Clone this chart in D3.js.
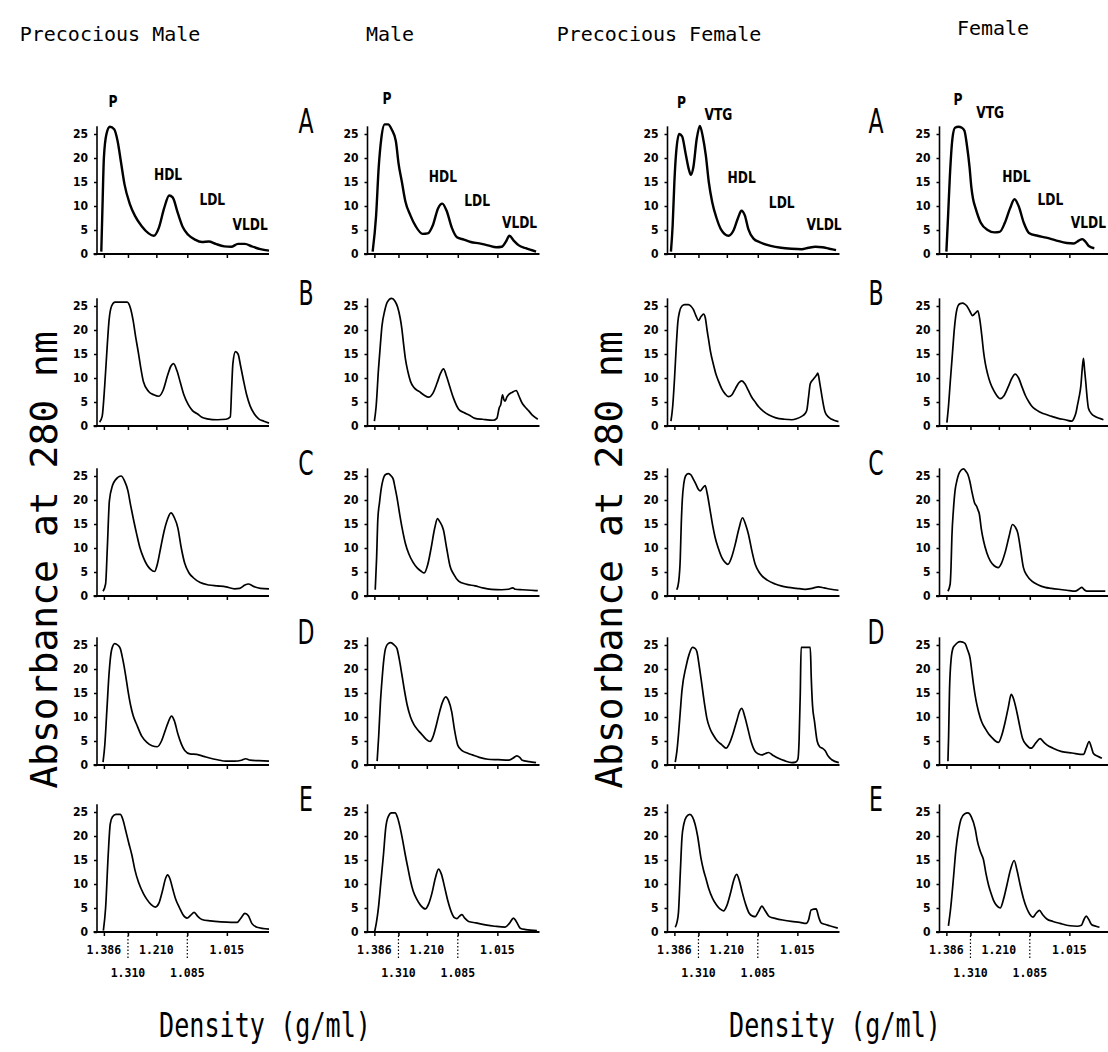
<!DOCTYPE html>
<html><head><meta charset="utf-8">
<script src="https://cdn.jsdelivr.net/npm/d3@7"></script>
<style>body{margin:0;background:#fff}svg{display:block}</style>
</head><body>
<svg id="c" width="1108" height="1052"></svg>
<script>
// ---------- data ----------
const columnTitles = ["Precocious Male", "Male", "Precocious Female", "Female"];
const rowLetters = ["A", "B", "C", "D", "E"];
const yTicks = [0, 5, 10, 15, 20, 25];
// gradient density labels and their fraction position (% of gradient length)
const densityLabels = ["1.386", "1.310", "1.210", "1.085", "1.015"];
const densityPos = [4, 18, 34.5, 52.5, 75.5];
const densityLine = [0, 1, 0, 1, 0];   // 0 = upper label line, 1 = lower (dotted guide)
const yTitle = "Absorbance at 280 nm";
const xTitle = "Density (g/ml)";

// absorbance profiles: [fraction position %, absorbance]
const pmA = [[2.5,0.5],[3.2,10],[4,20],[5.5,25],[7.5,26.5],[10,26],[12,23.5],[14,19],[16,14.5],[19,10.5],[22,8],[26,5.8],[30,4.3],[33,3.8],[36,5.5],[39,9.5],[42,12.2],[44,11.8],[47,8.5],[50,5.5],[53,4],[57,3],[61,2.5],[65,2.6],[69,2.1],[74,1.6],[78,1.5],[82,2.1],[86,2.1],[90,1.6],[95,1],[100,0.7]];
const pmB = [[1.5,0.8],[3,2],[4.5,8.5],[6,17],[7,22],[8.5,25],[10.5,25.8],[14,25.8],[17.5,25.8],[19.5,24.5],[21,22],[22.5,18.5],[24,15.4],[25.5,12],[27,9.2],[30,7.2],[33,6.5],[36,6.2],[38.5,7.5],[41,10.5],[43,12.5],[44.5,13],[46.5,11.5],[48.5,9],[50.5,6.5],[53,4.5],[55.5,3.2],[58.5,2.5],[61,1.8],[64,1.5],[70,1.3],[75,1.4],[77.5,1.9],[78.3,8],[79,13],[80.5,15.5],[82,15],[83.5,12.5],[85,9.8],[87,6.5],[89,4.2],[91.5,2.5],[94,1.5],[97,1],[100,0.6]];
const pmC = [[3.5,1],[5,2.5],[6,10],[7.2,19.8],[9,23],[11,24.3],[14,25],[16,24],[18,21.9],[19.5,19],[21,16.3],[23,13],[25,10],[27,8],[29,6.5],[31,5.6],[33.5,5.1],[35,6.5],[37,10],[39,13.5],[41,16],[43,17.3],[45,16.3],[47,14.2],[49,10],[51,6.8],[53.5,4.8],[56,3.8],[60,2.8],[65,2.3],[70,2.1],[75,1.9],[80,1.5],[83,1.6],[86,2.3],[88,2.5],[91,2],[95,1.6],[100,1.5]];
const pmD = [[3.5,0.6],[4.5,4],[5.8,11.8],[7,19],[8.5,24],[10.3,25.3],[12,25],[13.5,24.3],[15,22],[16.5,19],[18,15.5],[19.5,12.5],[21,10.3],[23,8.5],[26,6],[29,4.7],[32,4],[35,3.8],[37.5,5],[39.5,7],[41.5,9],[43.3,10.2],[45,9.2],[47,6.5],[49,4.4],[51,3],[54,2.3],[58,2.2],[62,1.8],[66,1.4],[70,1.1],[75,0.8],[80,0.8],[84,1],[86.5,1.3],[89,1],[94,0.9],[100,0.8]];
const pmE = [[3.7,0.3],[5,5],[6.5,16],[7.7,22.5],[9,24],[11,24.5],[13.5,24.5],[15,23.5],[16.5,21.4],[18.5,18.5],[20.3,16],[22,13],[24.2,10.3],[27,8],[29,6.8],[31.5,5.7],[34,5.2],[36,6],[38,8.5],[40,11.3],[41,11.9],[42.5,11],[44,9],[45.5,7.1],[48,5],[50,3.6],[52.3,2.9],[54.5,3.5],[56.5,4.1],[58.5,3.3],[61,2.6],[66,2.3],[72,2.1],[78,2],[81.5,2],[83.5,2.8],[86,3.9],[88,3.4],[90,1.8],[93,1],[100,0.6]];

const mA = [[3,0.5],[5,8],[6.5,18],[8,24],[10,27],[12,27],[14,26],[16.5,23.5],[18,19],[20,15],[22,11],[25,8],[28,5.8],[32,4.2],[35,4.3],[38,6],[41,9.5],[43.5,10.5],[46,9],[49,5.5],[52,3.5],[56,3],[60,2.5],[65,2.2],[70,1.8],[75,1.4],[78,1.5],[80.5,2.6],[82.5,3.8],[85,2.8],[88,1.8],[92,1.2],[98,0.5]];
const mB = [[4,1],[5,4],[6.4,11.9],[7.5,17],[8.4,20.8],[10,24],[11.5,25.8],[14,26.6],[16,26],[17.5,24.8],[19,22.5],[20,20.2],[21,17],[22,14.1],[23.5,11.3],[25,9.3],[27,8],[30,7.2],[33,6.4],[35.5,6],[38,6.8],[40.5,9],[42.5,11],[44.2,11.9],[46,10.3],[48,8],[50,5.8],[53,3.5],[56,2.8],[59,2.3],[62.5,1.6],[67,1.4],[73,1.2],[75.2,1.6],[76.6,3.8],[77.5,4.5],[78.5,6.5],[79.3,5.5],[80,5.2],[81,6],[82,6.5],[84,7],[86.5,7.4],[88,6.3],[89.7,4.9],[91.5,4],[93.6,3.2],[96,2.2],[99,1.4]];
const mC = [[4.5,1.3],[5.3,8],[6,16],[7,19.5],[8,22.4],[9,24.2],[10.5,25.3],[12.2,25.5],[13.5,25.1],[15,24.3],[16,22.6],[17.1,20.6],[18.5,17.5],[20,14.4],[22,11],[24,8.8],[26.5,7],[29,5.8],[31,5.2],[33,4.8],[35,6.5],[37,10],[39,14],[40.7,16.1],[42,15.5],[44.2,13.7],[46,10],[48,6.2],[50,4.6],[53,3.1],[57,2.5],[62.5,2.1],[67,1.7],[72,1.4],[78,1.3],[82,1.4],[84.5,1.7],[86,1.4],[90,1.3],[95,1.2],[99,1.1]];
const mD = [[5.6,0.8],[6.5,6],[7.5,13],[8.5,18],[9.5,22],[10.5,24.3],[12,25.3],[13.5,25.5],[15.5,25],[17.1,24.3],[18.5,22],[20,18.8],[21.5,15.5],[23,12.6],[25,10],[27,8.4],[29.5,7.2],[32,6.2],[34,5.4],[36.4,4.9],[38,5.8],[39.5,7.6],[41.5,10.5],[43.5,13],[45.5,14.2],[47,13.5],[49,11],[50.5,7.5],[52.5,4.1],[55,3],[58,2.5],[61,2.1],[65,1.6],[70,1.2],[76,1.1],[82,1],[84.5,1.4],[86.8,1.9],[88.5,1.6],[90,1],[94,0.7],[98,0.5]];
const mE = [[4.1,0],[5.2,2],[6.4,5.2],[7.8,10.5],[9.3,16.2],[10.6,21.7],[12,24],[14,24.8],[16,24.8],[17.5,23.8],[19,21.7],[20.5,19],[21.9,16.2],[23.5,13.3],[24.8,11],[26.5,8.6],[28.7,6.8],[31,5.5],[33.6,4.8],[35.5,5.8],[37.4,8],[39.5,11.3],[41.3,13.1],[43,12],[44.8,9.4],[46.7,6.5],[48.7,4.2],[50.5,3],[52,2.8],[53.5,3.3],[54.9,3.6],[56.5,2.9],[58.8,2.2],[63,1.9],[68.5,1.5],[74,1.2],[80,1],[82.5,1.8],[84.9,2.9],[86.5,2.2],[88.8,0.8],[92,0.5],[98.5,0.3]];

const pfA = [[2,0.5],[3,6],[4,15],[5,21],[6.8,25],[8.5,24.5],[10.5,21],[12.5,17.5],[13.6,16.5],[15,18],[17,24],[18.8,26.7],[20.5,24.5],[22.3,20.5],[24,15],[26,10.8],[28.5,7.5],[31,5.2],[35.5,3.8],[38.5,5],[41,7.5],[43,9],[45,8],[47,5.2],[50,3.2],[54,2.4],[60,1.7],[66,1.3],[72,1.1],[78,1],[82,1.3],[86,1.5],[90,1.4],[94,1.1],[98,0.8]];
const pfB = [[2,1],[3,4],[4.1,10],[5,16],[6,21.6],[7,23.8],[8.4,25],[10,25.3],[12.2,25.3],[13.5,25],[15,24.3],[16.5,23],[18,22],[19.5,22.8],[21,23.3],[22,22.5],[23,20],[23.8,18.2],[25,15.5],[26.7,12.8],[28,11],[29.6,9.4],[31.5,7.8],[33.5,6.7],[35.5,6.1],[37.5,6.5],[39.5,7.8],[41.5,9],[43.2,9.4],[45,8.8],[47,7.4],[49,6],[51,5],[53,4],[56,3],[59,2.3],[63,1.7],[68,1.4],[72.3,1.3],[75,1.5],[78,2],[80,2.6],[81,3.3],[82,6],[83,8.8],[84.9,9.8],[86.5,10.5],[87.4,11],[88.5,9],[89.6,6.6],[90.6,4.5],[91.6,2.9],[93.5,1.9],[95.5,1.4],[99.4,0.9]];
const pfC = [[5.4,1.3],[6.5,3],[7.4,7.6],[8,15],[8.6,20],[9.5,23.5],[10.5,25],[12,25.5],[13.5,25.3],[15.1,24.3],[16.5,23.3],[18,22.2],[19,21.9],[20.5,22.5],[21.9,23],[23,21.5],[24.8,17.8],[26.2,14.8],[27.7,12.2],[29.5,10],[31.6,8],[33.5,7],[35.1,6.6],[37,7.8],[39.4,10.8],[41.5,14],[43.6,16.3],[45.3,15],[47.1,12.8],[49,9.5],[51,6.6],[53,5.1],[54.9,4.2],[58,3.3],[62.6,2.5],[66,2.1],[70.3,1.8],[75,1.6],[80,1.4],[84,1.6],[87.8,1.9],[91,1.7],[95,1.4],[99.4,1.2]];
const pfD = [[4.5,0.6],[5.5,3],[6.4,6.4],[7.4,11],[8.4,15.5],[10.7,20.4],[12.6,23.1],[14.5,24.5],[16,24.3],[17.1,23.6],[18.5,20.5],[20,16.7],[21.5,12.8],[22.9,9.7],[24.8,7.5],[26.7,6.2],[29,5],[31.6,4.2],[34,3.5],[36,4.5],[38.4,6.9],[40.5,9.5],[42,11.3],[43.2,11.8],[45,10],[46.7,7.6],[48.5,5],[51,2.8],[53,2.3],[55,2.1],[57,2.4],[58.7,2.6],[61,2.1],[64.5,1.4],[68,0.9],[72.3,0.5],[74.5,0.6],[75.8,1.2],[76.5,5],[77.2,15],[77.7,24.5],[80,24.5],[83,24.5],[83.6,18],[84.3,12.5],[85.5,9],[87,5],[88.5,3.8],[90,3.5],[91.6,3],[93.5,1.8],[95.5,1.1],[99.6,0.5]];
const pfE = [[4.5,1],[5.5,2],[6.4,4.2],[7.4,12],[8.4,19.6],[9.5,22.5],[11,24],[13,24.5],[14.5,24],[16,22.5],[17.5,20],[19.4,15.5],[21,12.8],[22.3,11.2],[24,9],[26.2,7],[28.5,5.6],[30.5,4.8],[32.6,4.4],[34.5,5.5],[36.9,8.5],[38.5,10.8],[40.2,12],[41.7,10.8],[43.3,8.5],[45.5,5.7],[47.5,3.9],[49.5,3.3],[51,3.2],[53,4.3],[54.9,5.4],[56.5,4.6],[59.2,3.2],[63,2.8],[66.9,2.5],[72,2.2],[77,2],[80.6,1.8],[82,2.5],[83.5,4.6],[86.4,4.8],[88,3],[89.3,1.9],[91.5,1.6],[94.2,1.3],[99,0.8]];

const fA = [[4,0.5],[5,8],[6,16],[7.5,24],[9,26.3],[11,26.5],[13,26.3],[14.5,25.7],[16,22.5],[17.5,18],[18.5,14],[19.5,11.5],[21,9.5],[24,6.5],[28,5],[32,4.5],[35,4.6],[38,6.5],[41,9.5],[43.6,11.4],[46,10],[49,6.5],[52,4.4],[57,3.8],[62,3.4],[68,2.8],[74,2.3],[78,2.2],[81,2.8],[83,3.1],[85,2.5],[87,1.6],[90,1.2]];
const fB = [[4.3,0.7],[5.2,4],[6.2,8.9],[7.5,15],[8.7,20.5],[9.7,23.5],[10.7,25],[12,25.5],[13.4,25.6],[14.7,25.4],[15.9,25],[17.5,24],[19.2,23],[20.8,23.5],[22.3,24],[23.5,22],[24.7,18.5],[25.6,15.5],[26.6,13.1],[28,10.8],[29.5,9],[31.5,7.4],[33,6.5],[35.3,5.7],[37.5,6.3],[40,8.2],[42,9.9],[44,10.8],[46,10],[47.9,8.2],[50,6.3],[52,5],[53.7,4.1],[56.5,3.3],[59.5,2.7],[62,2.4],[65.3,2],[69,1.6],[73.1,1.3],[77,1],[78.3,1.7],[79.3,2.7],[80.3,4.5],[81.2,6.1],[82.2,8.4],[83,12],[83.7,14.1],[84.4,11.5],[85.1,8.9],[85.8,6],[86.6,3.7],[88.5,2.5],[90.5,2],[93,1.6],[95.3,1.3]];
const fC = [[4.9,1],[6.2,2.5],[6.7,6],[7.2,12.3],[8.1,18],[9.1,22.1],[10.1,24],[11.1,25.3],[12.5,26.2],[14,26.5],[15.3,26],[16.5,25.3],[17.7,23.8],[18.8,21.8],[20.3,19.5],[21.7,18.6],[22.5,17.8],[23.1,17.2],[24.3,14],[25.6,11.5],[27.5,9],[29.5,7.3],[31.8,6.3],[34.1,5.9],[36,6.8],[38.4,9.4],[40.5,12.5],[42.4,14.9],[44,14.4],[45.6,13],[47.2,9.5],[48.8,5.9],[51,4.2],[53.7,3.1],[57.5,2.3],[61.4,1.8],[65,1.6],[69.2,1.4],[74,1.2],[78.9,1],[81,1.4],[82.8,1.8],[84.2,1.3],[85.7,1],[90,1],[96.4,1]];
const fD = [[4.9,0.8],[5.3,6],[5.8,15.3],[6.8,22.2],[8,24.5],[9.1,25],[10.5,25.5],[12,25.7],[13.5,25.6],[14.9,25.3],[16.3,24],[17.8,22.2],[18.8,19.5],[19.8,16.7],[21.2,13.5],[22.7,11.1],[24.5,9],[26.6,7.6],[28.5,6.5],[30.5,5.7],[32.5,5],[34.3,4.7],[36.2,6.2],[38.2,9],[40,12],[41.7,14.7],[43.3,13.5],[45,11],[46.7,8],[48.3,5.5],[50.5,4.2],[53.3,3.5],[56,4.6],[58.5,5.5],[60.5,4.8],[62.4,4.2],[66,3.5],[71.1,2.8],[77,2.5],[83.7,2.2],[85.3,3.5],[87,4.9],[88.2,3.8],[89.5,2.4],[92,1.8],[94.4,1.4]];
const fE = [[5.2,1.3],[6.5,5],[8.1,11.2],[9.5,17],[11,21],[12.5,23.5],[14.5,24.6],[16.5,24.8],[18.5,24],[20.8,21.4],[22,19],[23.7,16.8],[25.6,15],[27,12.2],[28.5,9.8],[30,8],[31.4,6.6],[33.3,5.5],[35.3,5],[37.2,6.8],[39.2,9.8],[41.3,13],[43.4,14.9],[45.1,12.8],[46.9,9.8],[48.8,7],[50.8,4.9],[52.5,3.7],[54.3,3.1],[56.2,3.9],[58.1,4.5],[60,3.6],[62.4,2.7],[66,2.2],[70,1.8],[75.9,1.3],[80,1.2],[82.5,1.4],[84,2.6],[85.3,3.3],[86.8,2.6],[88.5,1.5],[91,1.2],[93,1]];

// peak annotations on row A: [label, fraction position %, absorbance at label baseline]
const pmPeaks = [["P",9.3,30.6],["HDL",41.3,15.4],["LDL",67,10.2],["VLDL",89,5]];
const mPeaks  = [["P",11.3,31.3],["HDL",43.8,15.1],["LDL",63.7,9.9],["VLDL",88.4,5.4]];
const pfPeaks = [["P",8.2,30.4],["VTG",29.6,27.9],["HDL",43.1,14.8],["LDL",66.4,9.6],["VLDL",91,5]];
const fPeaks  = [["P",10.8,31],["VTG",29.5,28.3],["HDL",44.7,15],["LDL",64.5,10.2],["VLDL",86.6,5.4]];

const profiles = [
  [pmA, pmB, pmC, pmD, pmE],
  [mA, mB, mC, mD, mE],
  [pfA, pfB, pfC, pfD, pfE],
  [fA, fB, fC, fD, fE]
];
const peakLabels = [pmPeaks, mPeaks, pfPeaks, fPeaks];

// ---------- layout ----------
const colX = [97, 367.5, 667.5, 939.5];
const rowY = [254, 426, 596, 765, 932];
const titleX = [110, 390, 659, 993];
const titleY = [41, 41, 41, 35];
const letterX = [306, 876];

const svg = d3.select("#c");
const x = d3.scaleLinear().domain([0, 100]).range([0, 172]);
const y = d3.scaleLinear().domain([0, 25]).range([0, -120]);
const line = d3.line().x(d => x(d[0])).y(d => y(d[1])).curve(d3.curveMonotoneX);

const MONO = "'DejaVu Sans Mono', monospace";
const COND = "'DejaVu Sans Condensed', 'DejaVu Sans', sans-serif";

// column titles
svg.selectAll("text.ct").data(columnTitles).join("text")
  .attr("class", "ct")
  .attr("x", (d, i) => titleX[i]).attr("y", (d, i) => titleY[i])
  .attr("text-anchor", "middle")
  .style("font-family", MONO).style("font-size", "20px").attr("fill", "#000")
  .text(d => d);

// y titles
[57, 622].forEach(tx => {
  svg.append("text")
    .attr("transform", `translate(${tx},560) rotate(-90)`)
    .attr("text-anchor", "middle")
    .style("font-family", MONO).style("font-size", "38px")
    .text(yTitle);
});
// x titles
[265, 835].forEach(tx => {
  svg.append("text")
    .attr("transform", `translate(${tx},1037) scale(0.74,1)`)
    .attr("text-anchor", "middle")
    .style("font-family", MONO).style("font-size", "34px")
    .text(xTitle);
});

// row letters
rowLetters.forEach((L, r) => {
  letterX.forEach(lx => {
    svg.append("text")
      .attr("transform", `translate(${lx},${rowY[r] - 121}) scale(0.72,1)`)
      .attr("text-anchor", "middle")
      .style("font-family", COND).style("font-size", "34px")
      .text(L);
  });
});

// panels
profiles.forEach((col, c) => {
  col.forEach((data, r) => {
    const g = svg.append("g").attr("transform", `translate(${colX[c]},${rowY[r]})`);
    // y axis
    const ya = g.append("g").call(d3.axisLeft(y).tickValues(yTicks).tickSize(3).tickPadding(6));
    ya.select(".domain").remove();
    ya.selectAll("line").attr("stroke", "#000").attr("stroke-width", 1.5);
    ya.selectAll("text").style("font-family", COND).style("font-weight", "bold").style("font-size", "12px");
    g.append("line").attr("x1", 0).attr("x2", 0).attr("y1", y(0)).attr("y2", y(26.6))
      .attr("stroke", "#000").attr("stroke-width", 1.6);
    // x axis
    const xa = g.append("g").call(d3.axisBottom(x).tickValues(densityPos).tickSize(4).tickFormat(""));
    xa.select(".domain").remove();
    xa.selectAll("line").attr("stroke", "#000").attr("stroke-width", 1.5);
    g.append("line").attr("x1", x(-2)).attr("x2", x(100)).attr("y1", 0).attr("y2", 0)
      .attr("stroke", "#000").attr("stroke-width", 1.8);
    // profile
    g.append("path").datum(data).attr("d", line)
      .attr("fill", "none").attr("stroke", "#000")
      .attr("stroke-width", r === 0 ? 2.4 : 1.7).attr("stroke-linejoin", "round");
    // peak labels
    if (r === 0) {
      g.selectAll("text.pk").data(peakLabels[c]).join("text")
        .attr("class", "pk")
        .attr("transform", d => `translate(${x(d[1])},${y(d[2])}) scale(0.85,1)`)
        .attr("text-anchor", "middle")
        .style("font-family", COND).style("font-weight", "bold").style("font-size", "16px")
        .text(d => d[0]);
    }
    // density labels on bottom row
    if (r === rowLetters.length - 1) {
      densityLabels.forEach((lab, k) => {
        const px = x(densityPos[k]);
        if (densityLine[k] === 1) {
          g.append("line").attr("x1", px).attr("x2", px).attr("y1", 0).attr("y2", 27)
            .attr("stroke", "#000").attr("stroke-width", 1.2).attr("stroke-dasharray", "1.5,2");
        }
        g.append("text").attr("x", px).attr("y", densityLine[k] === 0 ? 22 : 45)
          .attr("text-anchor", "middle")
          .style("font-family", MONO).style("font-weight", "bold").style("font-size", "11.5px")
          .text(lab);
      });
    }
  });
});
</script>
</body></html>
